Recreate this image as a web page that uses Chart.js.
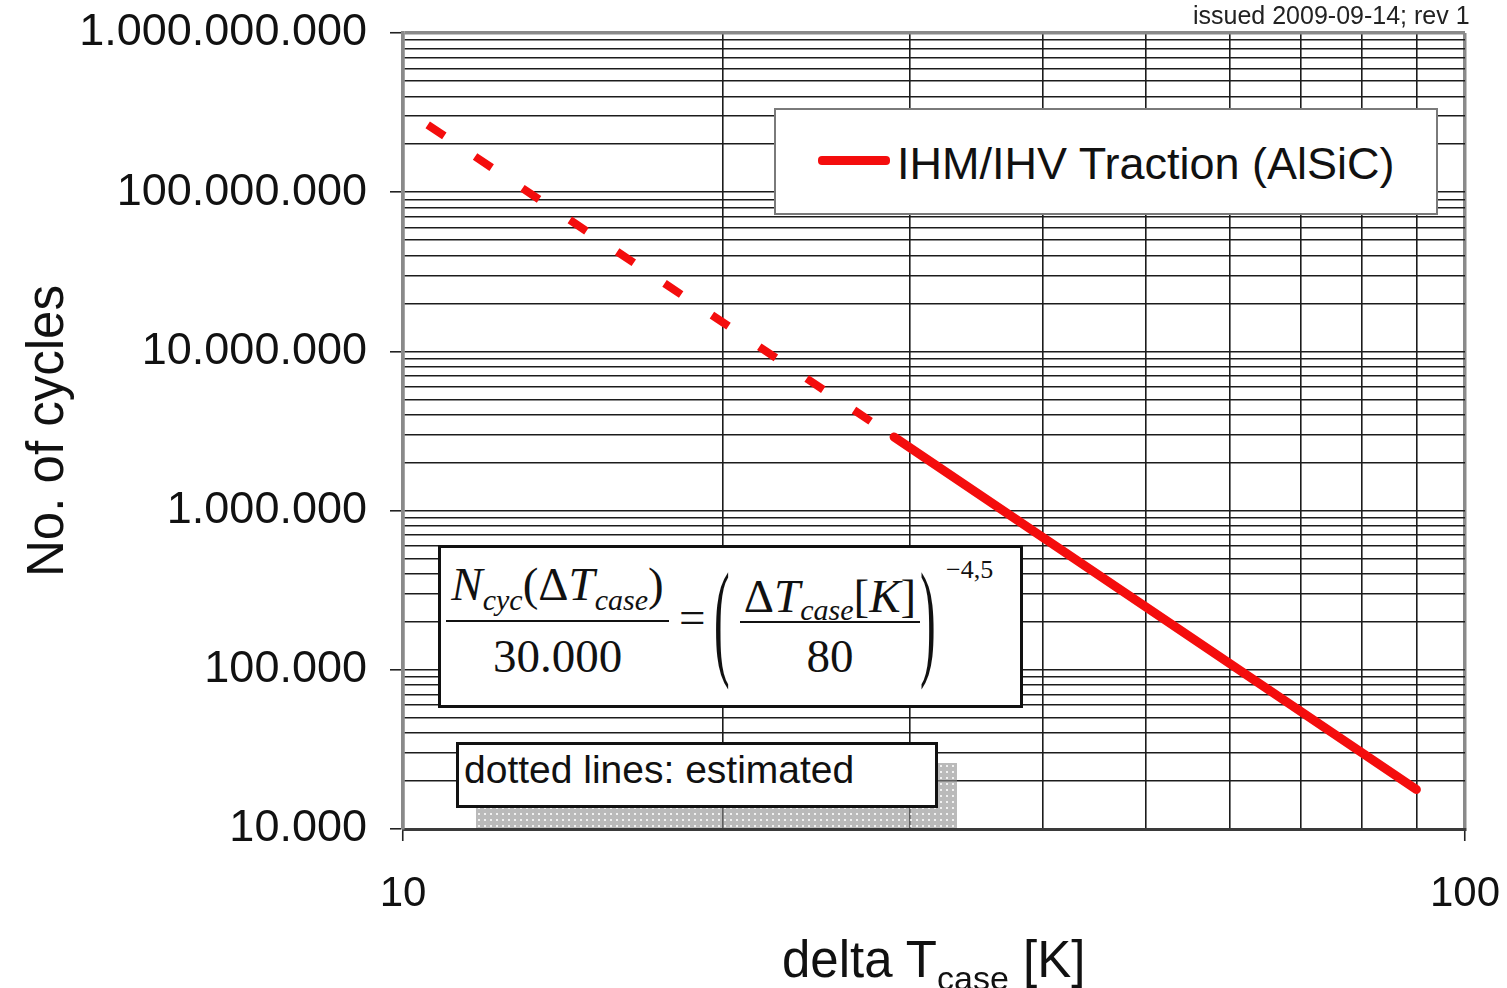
<!DOCTYPE html>
<html>
<head>
<meta charset="utf-8">
<script src="https://cdn.jsdelivr.net/npm/chart.js@4.4.1/dist/chart.umd.min.js"></script>
<style>
  body { margin: 0; background: #fff; }
  #wrap { position: relative; width: 1507px; height: 988px; overflow: hidden; }
  #lifeChart { position: absolute; left: 0; top: 0; }
  .ov { position: absolute; white-space: nowrap; color: #111; font-family: "Liberation Sans", Arial, sans-serif; line-height: 1; }
  .box { position: absolute; box-sizing: border-box; background: #fff; }
  .tm { font-family: "Liberation Serif", "Times New Roman", serif; }
  .it { font-style: italic; }
  .bar { position: absolute; height: 2px; background: #111; }
</style>
</head>
<body>
<div id="wrap">
  <canvas id="lifeChart" width="1507" height="988"></canvas>

  <!-- header note -->
  <div class="ov" style="left:1193px; top:3px; font-size:25px; color:#222;">issued 2009-09-14; rev 1</div>

  <!-- legend -->
  <div class="box" style="left:774px; top:108px; width:664px; height:107px; border:2px solid #7a7a7a;"></div>
  <div style="position:absolute; left:818px; top:156px; width:72px; height:9px; background:#f40d0d; border-radius:4px;"></div>
  <div class="ov" style="left:897px; top:141px; font-size:45px;">IHM/IHV Traction (AlSiC)</div>

  <!-- formula -->
  <div class="box" style="left:438px; top:545px; width:585px; height:163px; border:3px solid #111;"></div>
  <div class="ov tm" style="left:446px; top:561px; width:223px; text-align:center; font-size:47px;"><span class="it">N</span><span class="it" style="font-size:30px; position:relative; top:10px;">cyc</span>(Δ<span class="it">T</span><span class="it" style="font-size:30px; position:relative; top:10px;">case</span>)</div>
  <div class="bar" style="left:446px; top:620px; width:223px;"></div>
  <div class="ov tm" style="left:446px; top:633px; width:223px; text-align:center; font-size:47px;">30.000</div>
  <div class="ov tm" style="left:679px; top:594px; font-size:47px;">=</div>
  <div class="ov tm" style="left:714px; top:596px; font-size:47px; transform:scaleY(2.75); transform-origin:left center;">(</div>
  <div class="ov tm" style="left:740px; top:573px; width:180px; text-align:center; font-size:47px;">Δ<span class="it">T</span><span class="it" style="font-size:30px; position:relative; top:8px;">case</span>[<span class="it">K</span>]</div>
  <div class="bar" style="left:740px; top:621px; width:180px;"></div>
  <div class="ov tm" style="left:740px; top:633px; width:180px; text-align:center; font-size:47px;">80</div>
  <div class="ov tm" style="left:920px; top:596px; font-size:47px; transform:scaleY(2.75); transform-origin:left center;">)</div>
  <div class="ov tm" style="left:946px; top:557px; font-size:26px;">−4,5</div>

  <!-- note with shadow -->
  <div style="position:absolute; left:476px; top:763px; width:481px; height:65px; background-color:rgba(140,140,140,0.6); background-image:radial-gradient(rgba(255,255,255,0.8) 0.9px, transparent 1.2px); background-size:6px 6px;"></div>
  <div class="box" style="left:456px; top:742px; width:482px; height:66px; border:3px solid #111;"></div>
  <div class="ov" style="left:464px; top:750px; font-size:39px;">dotted lines: estimated</div>

  <!-- x axis title -->
  <div class="ov" style="left:782px; top:934px; font-size:51px;">delta T<span style="font-size:34px; position:relative; top:13px;">case</span> [K]</div>
</div>

<script>
/* DATA */
const estT = [10.55, 29];            // dotted part (estimated)
const estN = [265000000, 2900000];
const measT = [29, 90];              // solid part
const measN = [2900000, 17700];

const xGrid = [10, 20, 30, 40, 50, 60, 70, 80, 90, 100];
const xTickValues = [10, 100];
const xTickLabels = ['10', '100'];

const yDecades = [10000, 100000, 1000000, 10000000, 100000000, 1000000000];
const yTickLabels = ['10.000', '100.000', '1.000.000', '10.000.000', '100.000.000', '1.000.000.000'];
const seriesName = 'IHM/IHV Traction (AlSiC)';

/* grid lines: 1..9 per decade */
const yGrid = [];
yDecades.forEach(function (d, i) {
  if (i === yDecades.length - 1) { yGrid.push(d); return; }
  for (let m = 1; m <= 9; m++) yGrid.push(m * d);
});

function pts(xs, ys) {
  return xs.map(function (x, i) { return { x: x, y: ys[i] }; });
}

Chart.defaults.font.family = '"Liberation Sans", Arial, sans-serif';
Chart.defaults.color = '#111';

const ctx = document.getElementById('lifeChart');

new Chart(ctx, {
  type: 'line',
  data: {
    datasets: [{
      label: seriesName + ' (estimated)',
      data: pts(estT, estN),
      borderColor: '#f40d0d',
      borderWidth: 8,
      borderDash: [20, 37],
      borderCapStyle: 'butt',
      pointRadius: 0,
      tension: 0
    }, {
      label: seriesName,
      data: pts(measT, measN),
      borderColor: '#f40d0d',
      borderWidth: 9,
      borderCapStyle: 'round',
      pointRadius: 0,
      tension: 0
    }]
  },
  options: {
    responsive: false,
    animation: false,
    devicePixelRatio: 1,
    layout: { padding: { left: 0, top: 33, right: 42, bottom: 0 } },
    plugins: {
      legend: { display: false },
      tooltip: { enabled: false }
    },
    scales: {
      x: {
        type: 'logarithmic',
        min: 10,
        max: 100,
        afterBuildTicks: function (s) { s.ticks = xGrid.map(function (v) { return { value: v }; }); },
        afterFit: function (s) {
          s.height = 159;
          s.paddingLeft = 0;
          s.paddingRight = 0;
        },
        ticks: {
          autoSkip: false,
          maxRotation: 0,
          padding: 28,
          font: { size: 42 },
          callback: function (v) {
            const i = xTickValues.indexOf(v);
            return i < 0 ? '' : xTickLabels[i];
          }
        },
        grid: {
          color: function (c) {
            const v = c.tick && c.tick.value;
            return (v === 10 || v === 100) ? '#8a8a8a' : '#1c1c1c';
          },
          lineWidth: function (c) {
            const v = c.tick && c.tick.value;
            return (v === 10 || v === 100) ? 3.5 : 1.6;
          },
          tickColor: function (c) {
            const v = c.tick && c.tick.value;
            return (v === 10 || v === 100) ? '#222' : 'rgba(0,0,0,0)';
          },
          tickWidth: 1.6,
          tickLength: 12
        },
        border: { color: '#3a3a3a', width: 3 }
      },
      y: {
        type: 'logarithmic',
        min: 10000,
        max: 1000000000,
        afterBuildTicks: function (s) { s.ticks = yGrid.map(function (v) { return { value: v }; }); },
        afterFit: function (s) {
          s.width = 403;
          s.paddingTop = 0;
          s.paddingBottom = 0;
        },
        title: {
          display: true,
          text: 'No. of cycles',
          font: { size: 51 },
          padding: { top: 18, bottom: 0 }
        },
        ticks: {
          autoSkip: false,
          padding: 23,
          font: { size: 45 },
          callback: function (v) {
            const i = yDecades.indexOf(v);
            return i < 0 ? '' : yTickLabels[i];
          }
        },
        grid: {
          color: function (c) {
            const v = c.tick && c.tick.value;
            return v === 1000000000 ? '#8a8a8a' : '#1c1c1c';
          },
          lineWidth: function (c) {
            const v = c.tick && c.tick.value;
            return v === 1000000000 ? 3.5 : 1.6;
          },
          tickColor: function (c) {
            const v = c.tick && c.tick.value;
            return yDecades.indexOf(v) >= 0 ? '#222' : 'rgba(0,0,0,0)';
          },
          tickWidth: 1.6,
          tickLength: 13
        },
        border: { color: '#8a8a8a', width: 3.5 }
      }
    }
  }
});
</script>
</body>
</html>
